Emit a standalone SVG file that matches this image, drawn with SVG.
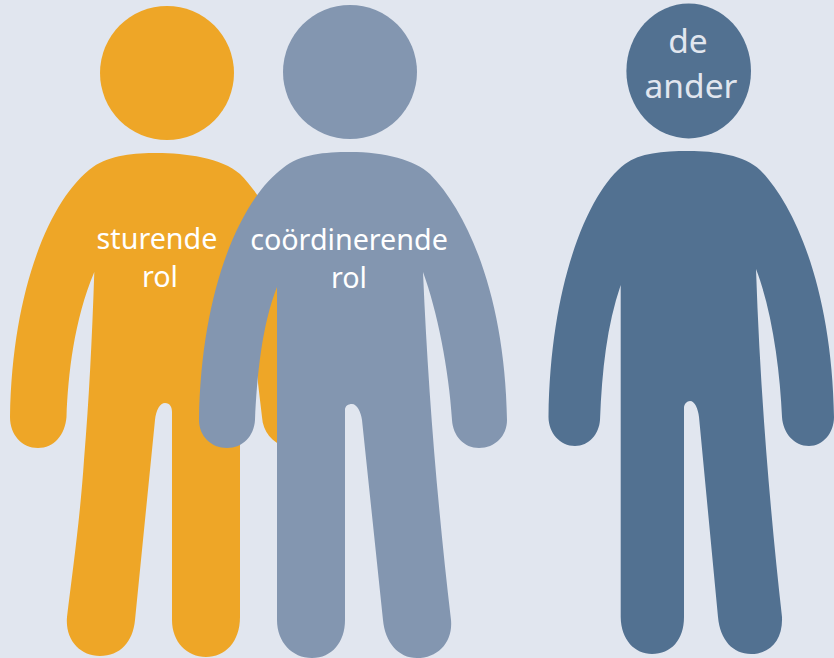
<svg xmlns="http://www.w3.org/2000/svg" width="834" height="658" viewBox="0 0 834 658">
<style>
.o{fill:#EEA627}.b{fill:#8396B0}.d{fill:#527191}
text{font-family:"Noto Sans","Open Sans",sans-serif;fill:#fff;text-anchor:middle;font-size:28.700px}
.l{fill:#E1E6EF;font-size:33.500px}
</style>
<rect width="834" height="658" fill="#E1E6EF"/>
<g id="sturende">
<circle class="o" cx="167" cy="73" r="67"/>
<path class="o" d="M157 153C135 153 110 155 93 167C50 198 12 290 10 417C10 435 22 448 38 448C54 448 65 435 66.500 417C68 375 74 320 94.300 272C92 340 89 400 84 460C80 520 72 575 67 617C65 640 80 656 100 656C120 656 133 642 135 620L155 420C156 410 160 403 165 403C170 403 172 407 172 412L172 620C172 642 187 657 206 657C225 657 240 642 240 617L240 272C250 310 256 350 258 383L262 417C263 432 272 442 285 447C300 448 318 436 318 417C316 300 280 215 240 174C222 158 185 153 157 153Z"/>
<text x="157" y="249">sturende</text>
<text x="160" y="287">rol</text>
</g>
<g id="coordinerende">
<circle class="b" cx="350" cy="72" r="67"/>
<path class="b" d="M350 152C325 152 300 154 283 168C240 200 201 290 199 420C199 436 211 448 227 448C243 448 254 436 255 420C257 375 262 325 277 287L277 620C277 642 292 658 312 658C332 658 345 642 345 620L345 410C345 406 348 404 352 404C357 404 361 412 362 420L383 620C385 642 398 658 417 658C438 658 453 642 451 620C438 510 428 390 423 272C437 310 449 370 452 420C453 436 464 448 479 448C495 448 507 436 507 420C505 300 470 215 430 174C415 160 385 152 350 152Z"/>
<text x="349" y="250">coördinerende</text>
<text x="349" y="288">rol</text>
</g>
<g id="de-ander">
<ellipse class="d" cx="688.700" cy="71" rx="62.300" ry="67.500"/>
<path class="d" d="M689 151C662 151 640 153 625 164C590 190 550 280 548.500 417C548.500 433 560 446 575 446C589 446 599 434 600 420C602 370 607 325 620.700 285L620.700 617C621 640 635 654 652 654C671 654 684 640 684 617L684 408C684 404 687 401 690 401C695 401 698 409 699 417L718 617C720 640 733 654 751 654C770 654 783 640 782 617C770 510 760 390 756 269C772 310 780 370 782 417C783 433 794 446 809 446C823 446 834 433 834 417C832 290 795 205 760 170C745 155 715 151 689 151Z"/>
<text class="l" x="688" y="53">de</text>
<text class="l" x="691" y="98">ander</text>
</g>
<g id="connectors"/>
</svg>
